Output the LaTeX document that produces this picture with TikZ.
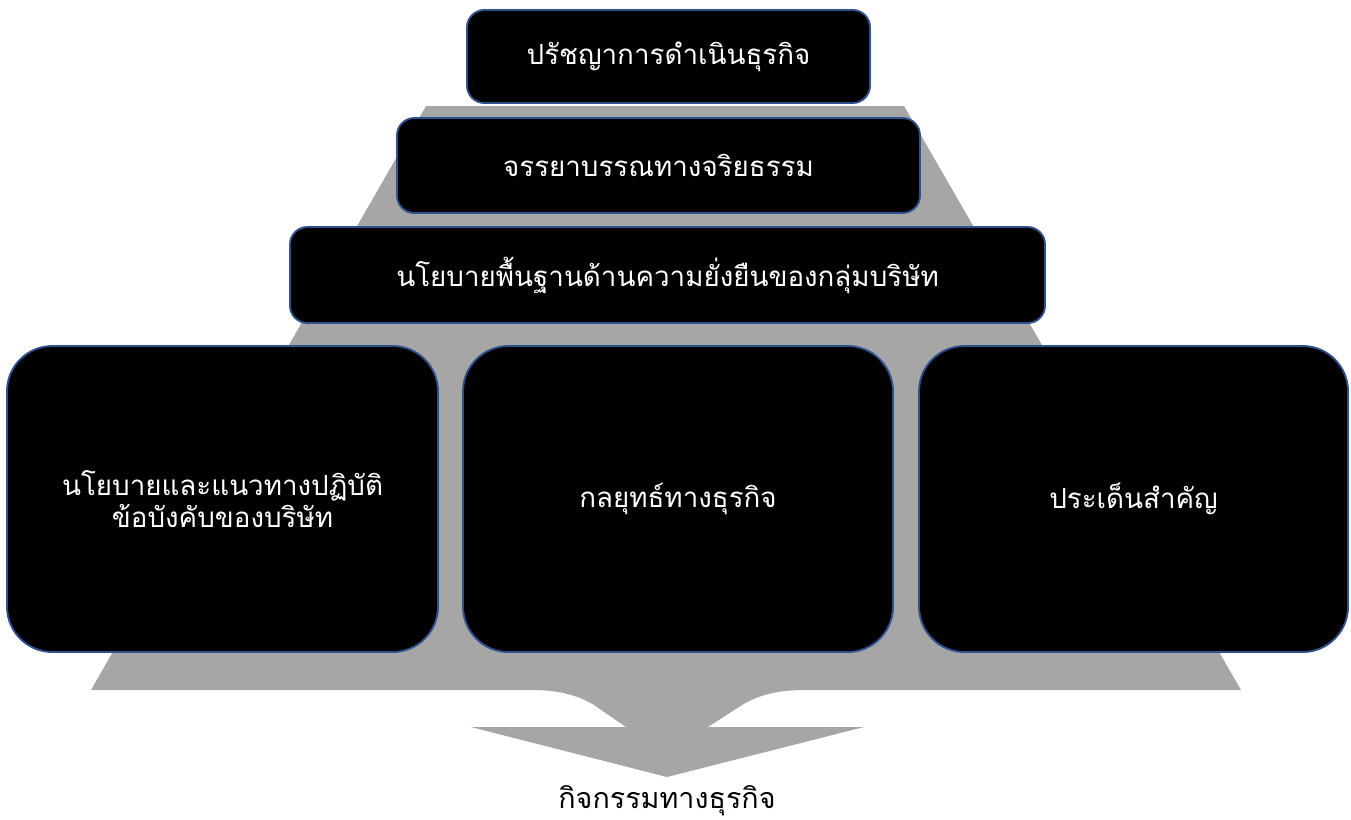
\documentclass[tikz,border=0pt]{standalone}
\usepackage{fontspec}
\newfontfamily\thaifont[Script=Thai]{Loma}
\definecolor{edgeblue}{HTML}{2F528F}
\definecolor{flowgray}{HTML}{A6A6A6}
\begin{document}
\begin{tikzpicture}[x=0.75pt,y=-0.75pt,
  smallbox/.style={draw=edgeblue,line width=1.4pt,fill=black,rounded corners=13pt,
    text=white,font=\thaifont\fontsize{20.8}{24}\selectfont,align=center,inner sep=0pt},
  bigbox/.style={smallbox,rounded corners=34pt}]
\useasboundingbox (0,0) rectangle (1351,819);
\fill[flowgray] (426,106) -- (904,106) -- (1241,690) -- (806,690)
  .. controls (780,690) and (760,694) .. (742,705) -- (708,727) -- (864,727)
  -- (667,777) -- (471,727) -- (626,727) -- (594,705)
  .. controls (576,694) and (556,690) .. (531,690) -- (91,690) -- cycle;
\node[smallbox,minimum width=403*0.75pt,minimum height=93*0.75pt] (phil) at (668.5,56.5) {ปรัชญาการดำเนินธุรกิจ};
\node[smallbox,minimum width=523*0.75pt,minimum height=95*0.75pt] (ethic) at (658.5,165.5) {จรรยาบรรณทางจริยธรรม};
\node[smallbox,minimum width=755*0.75pt,minimum height=96*0.75pt] (sust) at (667.5,275) {นโยบายพื้นฐานด้านความยั่งยืนของกลุ่มบริษัท};
\node[bigbox,minimum width=431*0.75pt,minimum height=306*0.75pt] (pol) at (222.5,499) {นโยบายและแนวทางปฏิบัติ\\ข้อบังคับของบริษัท};
\node[bigbox,minimum width=430*0.75pt,minimum height=306*0.75pt] (strat) at (678,499) {กลยุทธ์ทางธุรกิจ};
\node[bigbox,minimum width=429*0.75pt,minimum height=306*0.75pt] (issue) at (1133.5,499) {ประเด็นสำคัญ};
\node[font=\thaifont\fontsize{21.5}{24}\selectfont,text=black] (act) at (667,801) {กิจกรรมทางธุรกิจ};
\end{tikzpicture}
\end{document}
